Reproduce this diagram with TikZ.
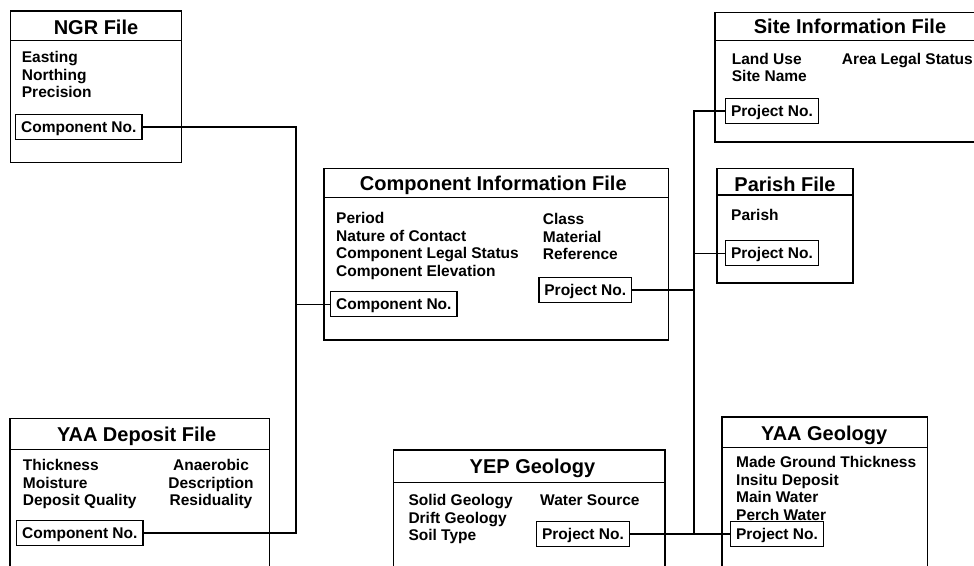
\documentclass[tikz,border=0pt]{standalone}
\usepackage{fontspec}
\setmainfont{Liberation Sans}
\begin{document}
\begin{tikzpicture}[x=1pt,y=-1pt,
  filebox/.style={draw, line width=1.6pt},
  sepline/.style={draw, line width=1.4pt},
  title/.style={anchor=base, font=\fontsize{20}{24}\selectfont\bfseries, inner sep=0pt},
  field/.style={anchor=base west, align=left, font=\fontsize{15.5}{17.5}\selectfont\bfseries, inner sep=0pt},
  fieldc/.style={anchor=base, align=center, font=\fontsize{15.5}{17.5}\selectfont\bfseries, inner sep=0pt},
  keybox/.style={draw, line width=1.2pt, anchor=west, inner xsep=5.5pt, inner ysep=0pt, text height=11.1pt, text depth=0pt, minimum height=25pt, font=\fontsize{15.5}{17.5}\selectfont\bfseries},
  link/.style={line width=1.3pt}]
\useasboundingbox (0,0) rectangle (974,565);
\clip (0,0) rectangle (974,565);

% NGR File
\draw[filebox] (10.5,11) rectangle (181.5,162.5);
\draw[sepline] (10.5,40.5) -- (181.5,40.5);
\node[title] (ngrt) at (96,34.2) {NGR File};
\node[field] (ngrf) at (21.7,97.7) {Easting\\Northing\\Precision};
\node[keybox] (ngrk) at (15,127) {Component No.};

% Site Information File
\draw[filebox] (715,12.3) rectangle (990,142);
\draw[sepline] (715,40.7) -- (990,40.7);
\node[title] (sitet) at (850,33.9) {Site Information File};
\node[field] (sitef) at (731.7,81.7) {Land Use\\Site Name};
\node[field] (sitef2) at (841.7,64.2) {Area Legal Status};
\node[keybox] (sitek) at (725,111) {Project No.};

% Parish File
\draw[filebox] (716.7,168.3) rectangle (852.7,282.7);
\draw[sepline] (716.7,195) -- (852.7,195);
\node[title] (part) at (785,191.5) {Parish File};
\node[field] (parf) at (731,220.5) {Parish};
\node[keybox] (park) at (725,253.3) {Project No.};

% Component Information File
\draw[filebox] (324,168.3) rectangle (668.3,340);
\draw[sepline] (324,197.7) -- (668.3,197.7);
\node[title] (cift) at (493.3,190.2) {Component Information File};
\node[field] (ciff) at (336,276.2) {Period\\Nature of Contact\\Component Legal Status\\Component Elevation};
\node[field] (ciff2) at (542.7,259.5) {Class\\Material\\Reference};
\node[keybox] (cifc) at (330,304.3) {Component No.};
\node[keybox] (cifp) at (538.3,290) {Project No.};

% YAA Deposit File
\draw[filebox] (10,418.3) rectangle (269.3,580);
\draw[sepline] (10,449.3) -- (269.3,449.3);
\node[title] (dept) at (136.7,441.4) {YAA Deposit File};
\node[field] (depf) at (22.7,505.5) {Thickness\\Moisture\\Deposit Quality};
\node[fieldc] (depf2) at (211,505.5) {Anaerobic\\Description\\Residuality};
\node[keybox] (depk) at (16,533) {Component No.};

% YEP Geology
\draw[filebox] (393.3,450) rectangle (665,580);
\draw[sepline] (393.3,482.7) -- (665,482.7);
\node[title] (yept) at (532.5,473.4) {YEP Geology};
\node[field] (yepf) at (408.3,540.5) {Solid Geology\\Drift Geology\\Soil Type};
\node[field] (yepf2) at (540,505.5) {Water Source};
\node[keybox] (yepk) at (536,534) {Project No.};

% YAA Geology
\draw[filebox] (721.7,416.7) rectangle (927.3,580);
\draw[sepline] (721.7,447.3) -- (927.3,447.3);
\node[title] (yaagt) at (824.2,440.9) {YAA Geology};
\node[field] (yaagf) at (736,520.3) {Made Ground Thickness\\Insitu Deposit\\Main Water\\Perch Water};
\node[keybox] (yaagk) at (730,534) {Project No.};

% Connectors
\coordinate (busL) at (296,0);
\coordinate (busR) at (694,0);
\draw[link] (ngrk.east) -- (ngrk.east -| busL) -- (depk.east -| busL) -- (depk.east);
\draw[link] (cifc.west) -- (cifc.west -| busL);
\draw[link] (sitek.west) -- (sitek.west -| busR) -- (yaagk.west -| busR) -- (yaagk.west);
\draw[link] (park.west) -- (park.west -| busR);
\draw[link] (cifp.east) -- (cifp.east -| busR);
\draw[link] (yepk.east) -- (yaagk.west);
\end{tikzpicture}
\end{document}
